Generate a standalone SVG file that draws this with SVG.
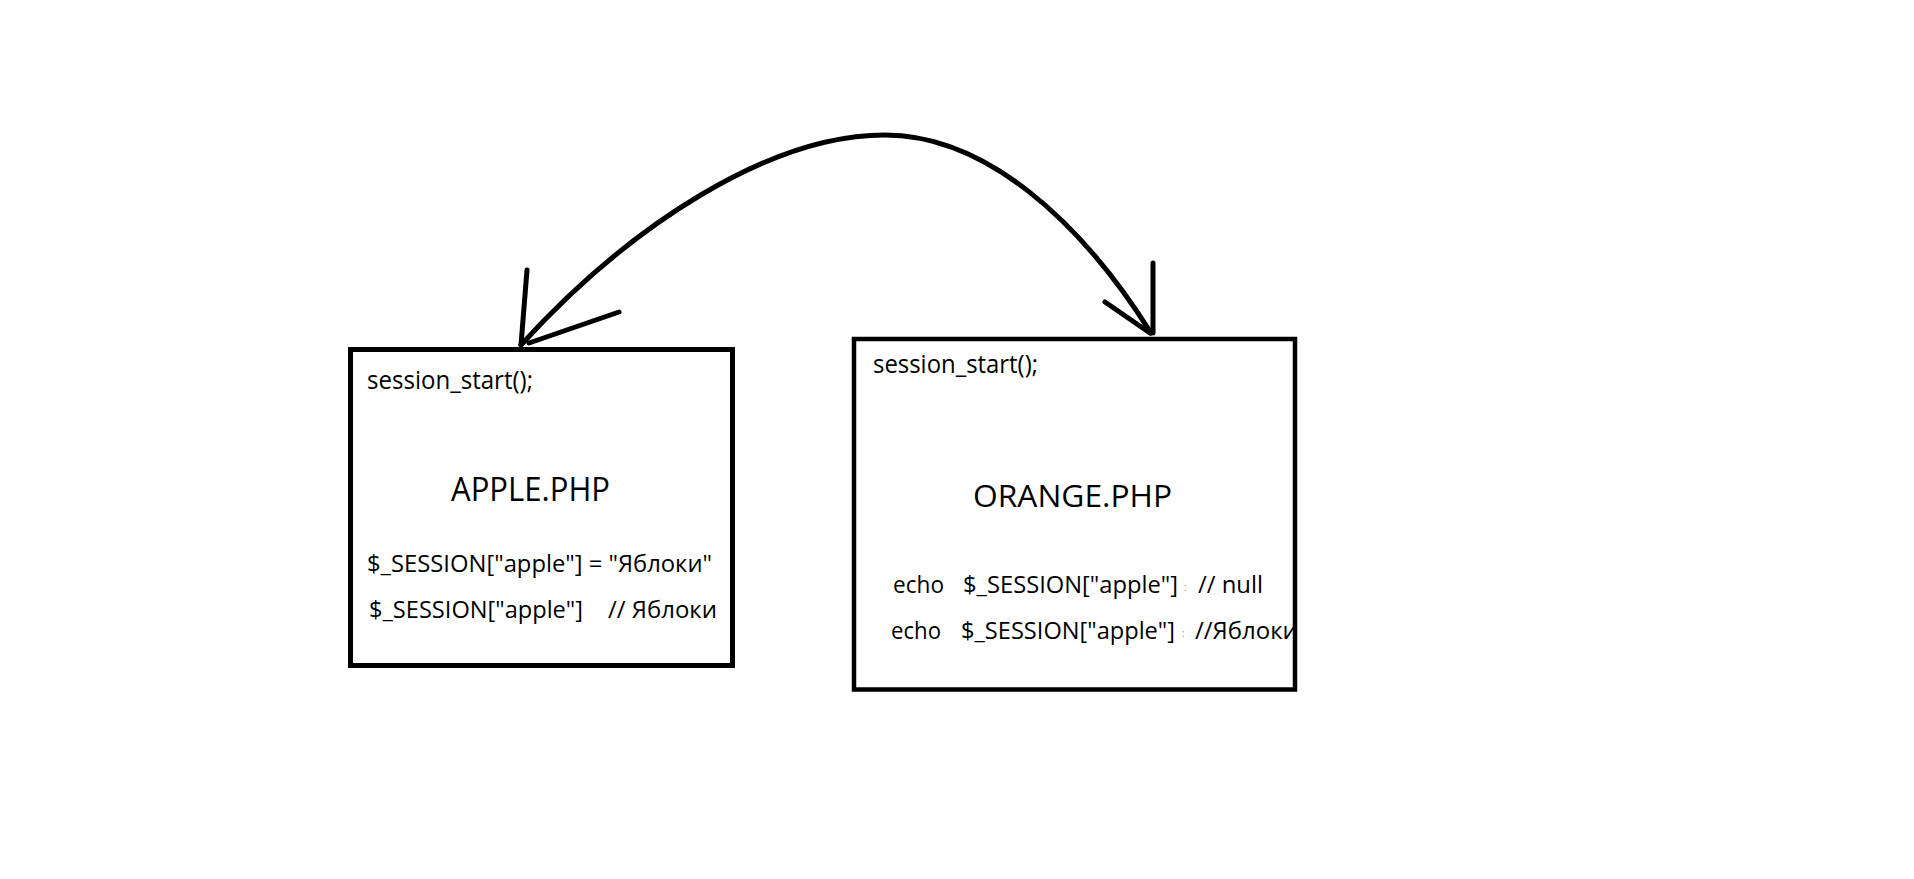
<svg xmlns="http://www.w3.org/2000/svg" width="1914" height="879" viewBox="0 0 1914 879">
<defs>
<style>
.box{fill:#ffffff;stroke:#000000;stroke-width:5}
.t{font-family:"Open Sans","Noto Sans","DejaVu Sans",sans-serif;fill:#000000}
.s{font-size:25px}
.h{font-size:32px}
.c{font-size:24px}
.dot{font-family:"Open Sans","Noto Sans",sans-serif;font-size:10px;fill:#c8823c}
.ln{fill:none;stroke:#000000;stroke-width:5;stroke-linecap:round;stroke-linejoin:round}
</style>
<clipPath id="clipOrange"><rect x="856" y="341" width="437" height="346"/></clipPath>
</defs>
<rect x="0" y="0" width="1914" height="879" fill="#ffffff"/>
<g id="apple">
<rect class="box" x="350.5" y="349.5" width="382" height="316"/>
<text class="t s" x="367" y="389" textLength="166" lengthAdjust="spacingAndGlyphs">session_start();</text>
<text class="t h" x="451" y="501" textLength="159" lengthAdjust="spacingAndGlyphs">APPLE.PHP</text>
<text class="t c" x="367" y="572" textLength="345" lengthAdjust="spacingAndGlyphs">$_SESSION["apple"] = "Яблоки"</text>
<text class="t c" x="369" y="618" textLength="214" lengthAdjust="spacingAndGlyphs">$_SESSION["apple"]</text>
<text class="t c" x="608" y="618" textLength="109" lengthAdjust="spacingAndGlyphs">// Яблоки</text>
</g>
<g id="orange">
<rect class="box" x="854" y="339" width="441" height="350.5" style="stroke-width:4.5"/>
<g clip-path="url(#clipOrange)">
<text class="t s" x="873" y="373" textLength="165" lengthAdjust="spacingAndGlyphs">session_start();</text>
<text class="t h" x="973" y="507" textLength="199" lengthAdjust="spacingAndGlyphs" style="font-size:31px">ORANGE.PHP</text>
<text class="t c" x="893" y="593" textLength="51" lengthAdjust="spacingAndGlyphs">echo</text>
<text class="t c" x="963" y="593" textLength="215" lengthAdjust="spacingAndGlyphs">$_SESSION["apple"]</text>
<text class="dot" x="1184" y="591">:</text>
<text class="t c" x="1198" y="593" textLength="65" lengthAdjust="spacingAndGlyphs">// null</text>
<text class="t c" x="891" y="639" textLength="50" lengthAdjust="spacingAndGlyphs">echo</text>
<text class="t c" x="961" y="639" textLength="214" lengthAdjust="spacingAndGlyphs">$_SESSION["apple"]</text>
<text class="dot" x="1182" y="637">:</text>
<text class="t c" x="1195" y="639">//Яблоки</text>
</g>
</g>
<g id="connectors">
<path class="ln" d="M521,345 C630,225 770,135 885,135 C985,135 1080,220 1151,333"/>
<path class="ln" d="M527,270 L521,345 M619,312 L529,343"/>
<path class="ln" d="M1153,263 L1153,333 M1105,302 L1150,333"/>
</g>
</svg>
